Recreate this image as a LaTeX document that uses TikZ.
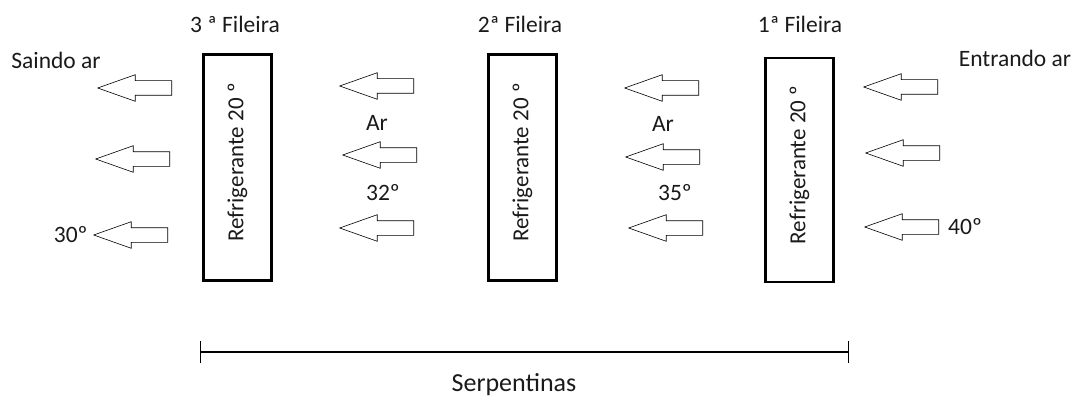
\documentclass[tikz,border=0pt]{standalone}
\usepackage{fontspec}
\setmainfont{Carlito}
\usepackage{tikz}
\usetikzlibrary{positioning,shapes.arrows,arrows.meta}
\definecolor{coilink}{HTML}{1A1A1A}

\begin{document}
\begin{tikzpicture}[x=1pt, y=-1pt,
  every node/.style={font=\fontsize{23.5}{27}\selectfont, text=coilink, inner sep=0pt},
  coil/.style ={draw=black, line width=2.6pt, rotate=90, minimum width=226pt,
                minimum height=68pt, font=\fontsize{23}{27}\selectfont},
  air/.style  ={single arrow, draw=black, line width=0.6pt, shape border rotate=180,
                inner sep=7pt, minimum height=74pt, single arrow head extend=6pt,
                single arrow tip angle=39, anchor=tail},
  span/.style ={{Bar[width=22pt]}-{Bar[width=22pt]}, draw=black, line width=1.1pt}]
\useasboundingbox (0,0) rectangle (1078,401);
% serpentinas (3 fileiras)
\node[coil] (c3) at (237.5,167.5) {\hspace{10pt}Refrigerante 20 º};
\node[coil] (c2) at (522.5,167.5) {\hspace{10pt}Refrigerante 20 º};
\node[coil, minimum width=224pt] (c1) at (799.5,170) {\hspace{10pt}Refrigerante 20 º};
\node (f3) at (235,24) {3 ª Fileira};
\node (f2) at (520,24) {2ª Fileira};
\node (f1) at (800,24) {1ª Fileira};
% fluxo de ar (posicao da cauda)
\foreach \x/\y [count=\i] in {172/88, 170/159, 168/235}
  {\node[air] (out\i) at (\x,\y) {};}
\foreach \x/\y [count=\i] in {414/86, 417/155, 414/228}
  {\node[air] (mida\i) at (\x,\y) {};}
\foreach \x/\y [count=\i] in {699/88, 700/157, 703/228}
  {\node[air] (midb\i) at (\x,\y) {};}
\foreach \x/\y [count=\i] in {938/87, 940/153, 939/227}
  {\node[air] (in\i) at (\x,\y) {};}
\node (saindo) at (56,60) {Saindo ar};
\node (entrando) at (1015,58) {Entrando ar};
\node[left=5pt of out3.tip] (t30) {30º};
\node[right=9pt of in3.tail] (t40) {40º};
\node (ara) at (377,123) {Ar};
\node (t32) at (383,193) {32º};
\node (arb) at (663,124) {Ar};
\node (t35) at (675,193) {35º};
% cota
\coordinate (sl) at (200,352);
\coordinate (sr) at (849,352);
\draw[span] (sl) -- (sr);
\node[font=\fontsize{26}{30}\selectfont] (serp) at (514,385) {Serpentinas};
\end{tikzpicture}
\end{document}
